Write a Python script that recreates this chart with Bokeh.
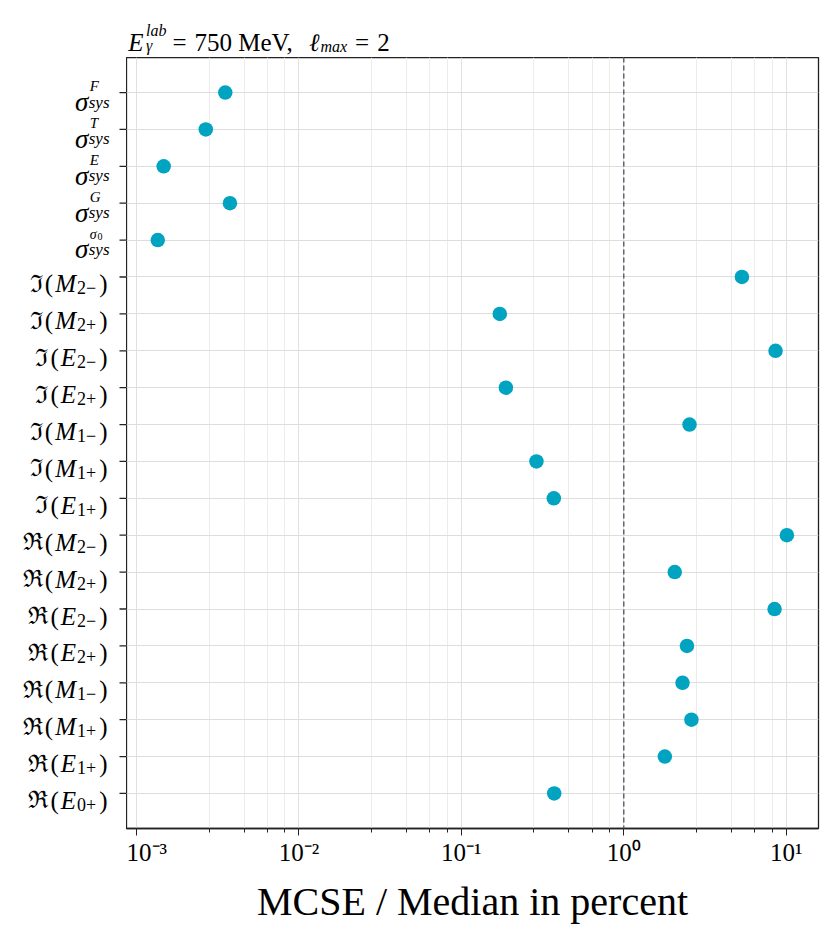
from bokeh.plotting import figure
from bokeh.layouts import column, row
from bokeh.models import Range1d, FixedTicker, Span, ColumnDataSource, CustomJSTickFormatter
from bokeh.core.properties import value
from bokeh.embed import file_html
from bokeh.resources import INLINE

# ---------------- data (rows listed top to bottom) ----------------
sigma_obs = ["F", "T", "E", "G", "σ0"]                       # sigma_sys^{obs}
im_multipoles = [("M", "2−"), ("M", "2+"), ("E", "2−"), ("E", "2+"),
                 ("M", "1−"), ("M", "1+"), ("E", "1+")]
re_multipoles = [("M", "2−"), ("M", "2+"), ("E", "2−"), ("E", "2+"),
                 ("M", "1−"), ("M", "1+"), ("E", "1+"), ("E", "0+")]
mcse_sigma = [0.00352, 0.00267, 0.00147, 0.00376, 0.001352]
mcse_im = [5.34, 0.1725, 8.60, 0.188, 2.54, 0.290, 0.371]
mcse_re = [10.1, 2.06, 8.48, 2.45, 2.30, 2.61, 1.79, 0.373]
x_major_ticks = [1e-3, 1e-2, 1e-1, 1e0, 1e1]
x_minor_mantissa = [2.8, 4.6, 6.4, 8.2]
reference_value = 1.0
title_energy = "750 MeV,"
title_lmax = "2"
x_label = "MCSE / Median in percent"

# ---------------- assemble rows ----------------
rows = ([("sigma", s) for s in sigma_obs] + [("ℑ", m) for m in im_multipoles]
        + [("ℜ", m) for m in re_multipoles])
values = mcse_sigma + mcse_im + mcse_re
n = len(rows)
ypos = [n - 1 - i for i in range(n)]

FONT = "Liberation Serif"
FRAK = "DejaVu Serif"
TXT = "#000000"
AX = "#222222"

W_UP = {"(": .333, ")": .333, "+": .564, "−": .564, ",": .25, " ": .25, "=": .564,
        "M": .889, "V": .722, "e": .444}
W_IT = {"E": .611, "M": .833, "F": .611, "T": .556, "G": .722, "s": .389, "y": .444,
        "l": .278, "a": .5, "b": .5, "m": .722, "x": .444, "γ": .43, "ℓ": .42, "σ": .55}


def tw(s, size, italic=False):
    tbl = W_IT if italic else W_UP
    return sum(tbl.get(c, 0.5) for c in s) * size


TOP_H = 57
LEFT_W = 126
FRAME_H = 771
FRAME_W = 692
BOTTOM = 100
RIGHT = 8

yr = Range1d(-0.95, n - 0.05)

# ---------------- main plot ----------------
p = figure(width=FRAME_W + RIGHT, height=FRAME_H + BOTTOM, x_axis_type="log",
           output_backend="svg", toolbar_location=None, y_axis_location=None,
           min_border_left=0, min_border_right=RIGHT, min_border_top=0,
           min_border_bottom=BOTTOM,
           x_range=Range1d(10 ** -3.0616, 10 ** 1.199), y_range=yr)
p.background_fill_color = "white"
p.border_fill_color = "white"
p.outline_line_color = AX
p.outline_line_width = 1.3

minor = [d * m for d in x_major_ticks for m in x_minor_mantissa]
p.xaxis.ticker = FixedTicker(ticks=x_major_ticks, minor_ticks=minor)
p.xaxis.formatter = CustomJSTickFormatter(code="""
const sup = {"-": "\u207b", "0": "\u2070", "1": "\u00b9", "2": "\u00b2", "3": "\u00b3",
             "4": "\u2074", "5": "\u2075", "6": "\u2076", "7": "\u2077", "8": "\u2078", "9": "\u2079"};
const e = Math.round(Math.log10(tick));
return "10" + String(e).split("").map(c => sup[c]).join("");
""")
p.xaxis.major_label_text_font = FONT
p.xaxis.major_label_text_font_size = "25px"
p.xaxis.major_label_text_color = TXT
p.xaxis.major_label_standoff = 3
p.xaxis.axis_label = x_label
p.xaxis.axis_label_text_font = FONT
p.xaxis.axis_label_text_font_size = "40px"
p.xaxis.axis_label_text_font_style = "normal"
p.xaxis.axis_label_text_color = TXT
p.xaxis.axis_label_standoff = 10
p.xaxis.major_tick_out = 7
p.xaxis.major_tick_in = 0
p.xaxis.minor_tick_out = 4
p.xaxis.minor_tick_in = 0
p.xaxis.axis_line_color = AX
p.xaxis.axis_line_width = 1.3
p.xaxis.major_tick_line_color = AX
p.xaxis.minor_tick_line_color = AX

p.xgrid.grid_line_color = "#e0e0e0"
p.xgrid.minor_grid_line_color = "#ececec"
p.xgrid.grid_line_width = 1
p.ygrid.ticker = FixedTicker(ticks=list(range(n)))
p.ygrid.grid_line_color = "#dddddd"
p.ygrid.grid_line_width = 1.2

p.add_layout(Span(location=reference_value, dimension="height", line_color="#5c6774",
                  line_dash="5 3", line_width=1.5))

src = ColumnDataSource(data=dict(x=values, y=ypos))
p.scatter("x", "y", source=src, size=14.5, fill_color="#00a3c0", line_color=None)

# ---------------- left label panel (x in px) ----------------
lp = figure(width=LEFT_W, height=FRAME_H + BOTTOM, output_backend="svg",
            toolbar_location=None, x_axis_location=None, y_axis_location=None,
            min_border_left=0, min_border_right=0, min_border_top=0,
            min_border_bottom=BOTTOM, x_range=Range1d(0, LEFT_W), y_range=yr)
lp.grid.visible = False
lp.outline_line_color = None
lp.background_fill_color = "white"
lp.border_fill_color = "white"

upp = (yr.end - yr.start) / FRAME_H   # data units per pixel


def txt(fig, x, y, text, size, italic=False, align="left", dy=0.0, font=FONT, scale=upp):
    fig.text(x=[x], y=[y + dy * scale], text=[text], text_font=value(font),
             text_font_size=value(f"{size}px"),
             text_font_style="italic" if italic else "normal",
             text_align=align, text_baseline="alphabetic", text_color=TXT)


# tick marks of the y axis
lp.segment(x0=[LEFT_W - 7] * n, x1=[LEFT_W] * n, y0=ypos, y1=ypos,
           line_color=AX, line_width=1.3)

R = 107
S, s = 25, 18
for (kind, item), y in zip(rows, ypos):
    if kind == "sigma":
        x0 = R + 2 - tw("sys", 17, True)
        txt(lp, x0 - 0.5, y, "σ", 27, italic=True, align="right", dy=-9.3)
        txt(lp, x0, y, "sys", 17, italic=True, dy=-9.5)
        if item == "σ0":
            txt(lp, x0 + 1, y, "σ", 14, italic=True, dy=6.0)
            txt(lp, x0 + 1 + tw("σ", 14, True), y, "0", 10, dy=4.0)
        else:
            txt(lp, x0 + 1, y, item, 15, italic=True, dy=6.2)
    else:
        letter, sub = item
        x = R
        txt(lp, x, y, ")", S, align="right", dy=-7)
        x -= tw(")", S) + 3
        txt(lp, x, y, sub, s, align="right", dy=-11)
        x -= tw(sub, s) + 1
        txt(lp, x, y, letter, S, italic=True, align="right", dy=-7)
        x -= tw(letter, S, True) + 2
        txt(lp, x, y, "(", S, align="right", dy=-7)
        x -= tw("(", S) + 2
        txt(lp, x, y, kind, 24, align="right", dy=-7, font=FRAK)

# ---------------- title panel (x, y in px) ----------------
tp = figure(width=LEFT_W + FRAME_W + RIGHT, height=TOP_H, output_backend="svg",
            toolbar_location=None, x_axis_location=None, y_axis_location=None,
            min_border=0, x_range=Range1d(0, LEFT_W + FRAME_W + RIGHT),
            y_range=Range1d(0, TOP_H))
tp.grid.visible = False
tp.outline_line_color = None
tp.background_fill_color = "white"
tp.border_fill_color = "white"

T = 25
base = TOP_H - 41.7
x = 127.7
txt(tp, x, base, "E", T, italic=True, scale=1)
x += tw("E", T, True) + 2.5
txt(tp, x, base, "lab", 16, italic=True, dy=11.5, scale=1)
txt(tp, x, base, "γ", 16, italic=True, dy=-3, scale=1)
x += tw("lab", 16, True) + 6
txt(tp, x, base, "=", T, scale=1)
x += tw("=", T) + 8
txt(tp, x, base, title_energy, T, scale=1)
x += tw(title_energy, T) + 13
txt(tp, x, base, "ℓ", T, italic=True, scale=1)
x += tw("ℓ", T, True) + 1
txt(tp, x, base, "max", 16, italic=True, dy=-4, scale=1)
x += tw("max", 16, True) + 8
txt(tp, x, base, "=", T, scale=1)
x += tw("=", T) + 8
txt(tp, x, base, title_lmax, T, scale=1)

layout = column(tp, row(lp, p, spacing=0), spacing=0)
open("out.html", "w").write(file_html(layout, INLINE))
